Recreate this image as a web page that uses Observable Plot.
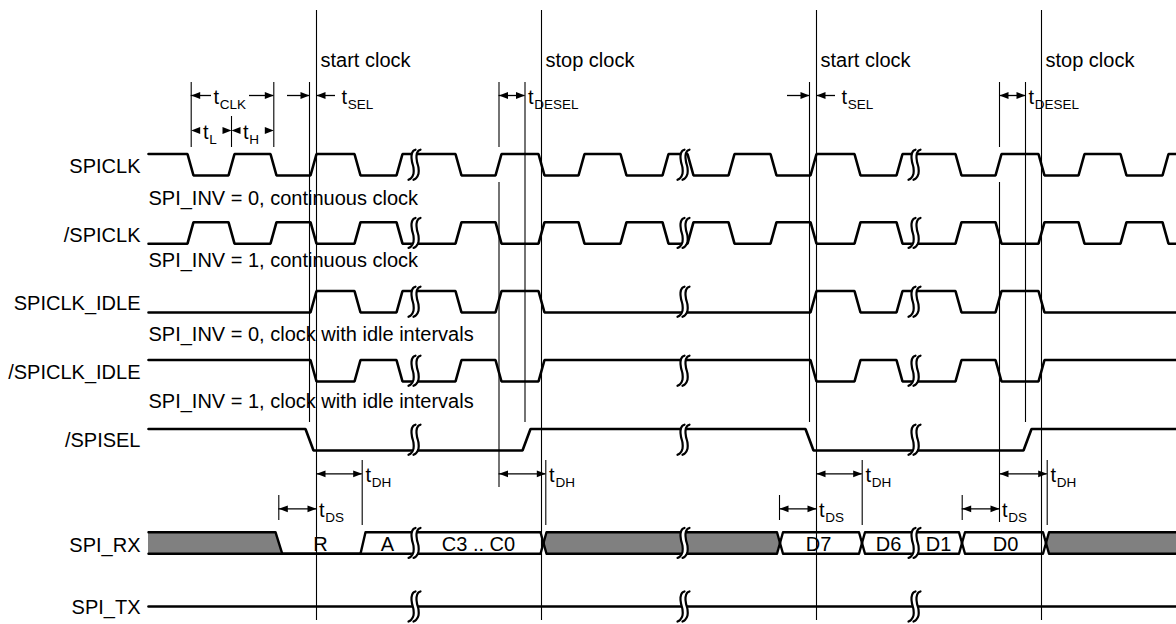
<!DOCTYPE html>
<html><head><meta charset="utf-8">
<script src="https://cdn.jsdelivr.net/npm/d3@7"></script>
<script src="https://cdn.jsdelivr.net/npm/@observablehq/plot@0.6"></script>
<style>html,body{margin:0;padding:0;background:#fff}</style>
</head><body><div id="chart"></div>
<script>
// ---------------- data (time axis in diagram units) ----------------
const signalNames = ["SPICLK", "/SPICLK", "SPICLK_IDLE", "/SPICLK_IDLE", "/SPISEL", "SPI_RX", "SPI_TX"];
const modeNotes = ["SPI_INV = 0, continuous clock", "SPI_INV = 1, continuous clock",
                   "SPI_INV = 0, clock with idle intervals", "SPI_INV = 1, clock with idle intervals"];
const tStart = 148, tEnd = 1176;
// SPICLK edges (start of each transition), initial level high
const spiclkEdges = [187, 228, 270, 310, 354, 396, 455, 495, 538, 578, 620, 662, 687, 728, 770, 810, 854, 896, 955, 995, 1038, 1078, 1120, 1162];
// gated clock edges, initial level low
const idleClkEdges = [310, 354, 396, 455, 495, 538, 810, 854, 896, 955, 995, 1038];
// /SPISEL edges, initial level high
const spiselEdges = [305, 522, 805, 1023];
const breakTimes = [415, 684, 915];
const startClock = [316, 816];
const stopClock = [541, 1041];
const selMarks = [309, 809];
const deselMarks = [498.5, 999];
const deselEnd = [524.5, 1025];
const tclkMarks = [190.7, 231, 273.3];
const dhSpans = [[316, 361.7], [498.5, 545.3], [816, 861.7], [999, 1046.7]];
const dsSpans = [[278.3, 316], [779, 816], [961.7, 999]];
// SPI_RX bus: invalid data until 275, line low until 360, then frame
const rxCross = [543, 779.5, 861.5, 961.5, 1045.5];
const rxLabels = [["R", 320], ["A", 387], ["C3 .. C0", 478], ["D7", 818], ["D6", 888], ["D1", 938], ["D0", 1005]];

// ---------------- layout ----------------
const font = "'Liberation Sans', Arial, Helvetica, sans-serif";
const rowTop = [153.5, 221.7, 290.5, 359.5, 428.5, 531.7, 606];
const amp = 21.5;
const lvlY = (row, lvl) => rowTop[row] + (1 - lvl) * amp;

function wave(row, edges, init, tr) {
  let lvl = init;
  const pts = [{x: tStart, y: lvlY(row, lvl), id: row}];
  for (const e of edges) {
    pts.push({x: e, y: lvlY(row, lvl), id: row});
    lvl = 1 - lvl;
    pts.push({x: e + tr, y: lvlY(row, lvl), id: row});
  }
  pts.push({x: tEnd, y: lvlY(row, lvl), id: row});
  return pts;
}
const waves = [
  ...wave(0, spiclkEdges, 1, 6),
  ...wave(1, spiclkEdges, 0, 6),
  ...wave(2, idleClkEdges, 0, 6),
  ...wave(3, idleClkEdges, 1, 6),
  ...wave(4, spiselEdges, 1, 8),
  ...wave(6, [], 1, 0)
];

// RX bus polygons
const T = rowTop[5], B = T + amp, M = (T + B) / 2, h = 3;
const fills = [], outl = [];
let pid = 0;
function poly(pts, fill) { const id = pid++; pts.forEach(p => fills.push({id, fill, x: p[0], y1: p[1], y2: p[2]})); }
function path(pts) { const id = pid++; pts.forEach(p => outl.push({id, x: p[0], y: p[1]})); }
poly([[tStart, T, B], [275, T, B], [281.7, B, B]], "#808080");
path([[tStart, T], [275, T], [281.7, B], [360, B]]);
path([[tStart, B], [281.7, B]]);
poly([[360, B, B], [365, T, B], [rxCross[0] - h, T, B], [rxCross[0], M, M]], "white");
path([[360, B], [365, T], [rxCross[0] - h, T], [rxCross[0], M]]);
path([[281.7, B], [rxCross[0] - h, B], [rxCross[0], M]]);
for (let i = 0; i + 1 < rxCross.length; i++) {
  const a = rxCross[i], b = rxCross[i + 1];
  poly([[a, M, M], [a + h, T, B], [b - h, T, B], [b, M, M]], i === 0 ? "#808080" : "white");
  path([[a, M], [a + h, T], [b - h, T], [b, M]]);
  path([[a, M], [a + h, B], [b - h, B], [b, M]]);
}
{
  const a = rxCross[rxCross.length - 1];
  poly([[a, M, M], [a + h, T, B], [tEnd, T, B]], "#808080");
  path([[a, M], [a + h, T], [tEnd, T]]);
  path([[a, M], [a + h, B], [tEnd, B]]);
}

// break glyphs
const rowMid = [0, 1, 2, 3, 4].map(r => rowTop[r] + amp / 2).concat([M, rowTop[6]]);
const glyph = [[6, -15], [3.5, -13.5], [2, -9], [2.5, -3], [4, 3], [4, 9], [1.5, 13.5], [-1, 15]];
const masks = [], strokes = [];
let gid = 0;
rowMid.forEach(cy => breakTimes.forEach(t => {
  const id = gid++;
  glyph.forEach(([dx, dy]) => {
    masks.push({id, x1: t + dx - 6, x2: t + dx - 1, y: cy + dy});
    strokes.push({id: id * 2, x: t + dx - 6, y: cy + dy});
    strokes.push({id: id * 2 + 1, x: t + dx - 1, y: cy + dy});
  });
}));

// vertical marker lines
const rules = [];
startClock.concat(stopClock).forEach(x => rules.push({x, y1: 10, y2: 620}));
selMarks.forEach(x => rules.push({x, y1: 82, y2: 422}));
deselEnd.forEach(x => rules.push({x, y1: 82, y2: 422}));
deselMarks.forEach((x, i) => { rules.push({x, y1: 82, y2: 147}); rules.push({x, y1: 182, y2: i ? 522 : 487}); });
tclkMarks.forEach((x, i) => rules.push({x, y1: i === 1 ? 116 : 82, y2: 147}));
dhSpans.forEach(([a, b]) => rules.push({x: b, y1: 460, y2: 525}));
dsSpans.forEach(([a, b]) => rules.push({x: a, y1: 495, y2: 520}));

// dimension arrows and labels
const shafts = [], headsL = [], headsR = [], tMain = [], tSub = [];
function label(x, y, sub) { tMain.push({x, y: y + 8, s: "t"}); tSub.push({x: x + 6.3, y: y + 13, s: sub}); }
const yTop = 95, yLH = 130, yDH = 473.3, yDS = 508.3;
shafts.push({x1: tclkMarks[0], x2: 211, y: yTop}, {x1: 249, x2: tclkMarks[2], y: yTop});
headsL.push({x: tclkMarks[0], y: yTop}); headsR.push({x: tclkMarks[2], y: yTop});
label(213, yTop, "CLK");
headsL.push({x: tclkMarks[0], y: yLH}, {x: tclkMarks[1], y: yLH});
headsR.push({x: tclkMarks[1], y: yLH}, {x: tclkMarks[2], y: yLH});
label(202.5, yLH, "L"); label(242.5, yLH, "H");
selMarks.forEach((a, i) => {
  const b = startClock[i];
  shafts.push({x1: a - 22, x2: a, y: yTop}, {x1: b, x2: b + 19, y: yTop});
  headsR.push({x: a, y: yTop}); headsL.push({x: b, y: yTop});
  label(b + 25, yTop, "SEL");
});
deselMarks.forEach((a, i) => {
  const b = deselEnd[i];
  shafts.push({x1: a, x2: b, y: yTop});
  headsL.push({x: a, y: yTop}); headsR.push({x: b, y: yTop});
  label(b + 3, yTop, "DESEL");
});
dhSpans.forEach(([a, b]) => { shafts.push({x1: a, x2: b, y: yDH}); headsL.push({x: a, y: yDH}); headsR.push({x: b, y: yDH}); label(b + 3.3, yDH, "DH"); });
dsSpans.forEach(([a, b]) => { shafts.push({x1: a, x2: b, y: yDS}); headsL.push({x: a, y: yDS}); headsR.push({x: b, y: yDS}); label(b + 2.5, yDS, "DS"); });

const arrowR = {draw(ctx) { ctx.moveTo(0, 0); ctx.lineTo(-9, -3.4); ctx.lineTo(-9, 3.4); ctx.closePath(); }};
const arrowL = {draw(ctx) { ctx.moveTo(0, 0); ctx.lineTo(9, -3.4); ctx.lineTo(9, 3.4); ctx.closePath(); }};

const labelBase = [172.3, 241.5, 309.5, 378.5, 446.7, 551, 613];
const noteBase = [204.3, 266, 340.7, 407];

const chart = Plot.plot({
  width: 1176, height: 624, margin: 0,
  x: {domain: [0, 1176], range: [0, 1176], axis: null},
  y: {domain: [0, 624], range: [0, 624], axis: null},
  style: {fontFamily: font, background: "white", color: "black"},
  marks: [
    Plot.areaY(fills, {x: "x", y1: "y1", y2: "y2", z: "id", fill: "fill", curve: "linear"}),
    Plot.ruleX(rules, {x: "x", y1: "y1", y2: "y2", stroke: "black", strokeWidth: 1.1}),
    Plot.line(waves, {x: "x", y: "y", z: "id", stroke: "black", strokeWidth: 2.6, strokeLinejoin: "miter"}),
    Plot.line(outl, {x: "x", y: "y", z: "id", stroke: "black", strokeWidth: 2.4}),
    Plot.text(rxLabels, {x: d => d[1], y: B - 2.5, text: d => d[0], fontSize: 20, lineAnchor: "bottom", textAnchor: "middle"}),
    Plot.text(signalNames, {x: 140, y: (d, i) => labelBase[i], text: d => d, fontSize: 20, lineAnchor: "bottom", textAnchor: "end"}),
    Plot.text(modeNotes, {x: 148, y: (d, i) => noteBase[i], text: d => d, fontSize: 20, lineAnchor: "bottom", textAnchor: "start"}),
    Plot.text(startClock, {x: d => d + 4, y: 66, text: () => "start clock", fontSize: 20, lineAnchor: "bottom", textAnchor: "start"}),
    Plot.text(stopClock, {x: d => d + 4, y: 66, text: () => "stop clock", fontSize: 20, lineAnchor: "bottom", textAnchor: "start"}),
    Plot.areaX(masks, {x1: "x1", x2: "x2", y: "y", z: "id", fill: "white", curve: "catmull-rom"}),
    Plot.line(strokes, {x: "x", y: "y", z: "id", stroke: "black", strokeWidth: 2.2, curve: "catmull-rom"}),
    Plot.ruleY(shafts, {x1: "x1", x2: "x2", y: "y", stroke: "black", strokeWidth: 1.3}),
    Plot.dot(headsR, {x: "x", y: "y", symbol: arrowR, fill: "black", stroke: "none"}),
    Plot.dot(headsL, {x: "x", y: "y", symbol: arrowL, fill: "black", stroke: "none"}),
    Plot.text(tMain, {x: "x", y: "y", text: "s", fontSize: 20, lineAnchor: "bottom", textAnchor: "start"}),
    Plot.text(tSub, {x: "x", y: "y", text: "s", fontSize: 13.5, lineAnchor: "bottom", textAnchor: "start"})
  ]
});
document.getElementById("chart").appendChild(chart);
</script>
</body></html>
